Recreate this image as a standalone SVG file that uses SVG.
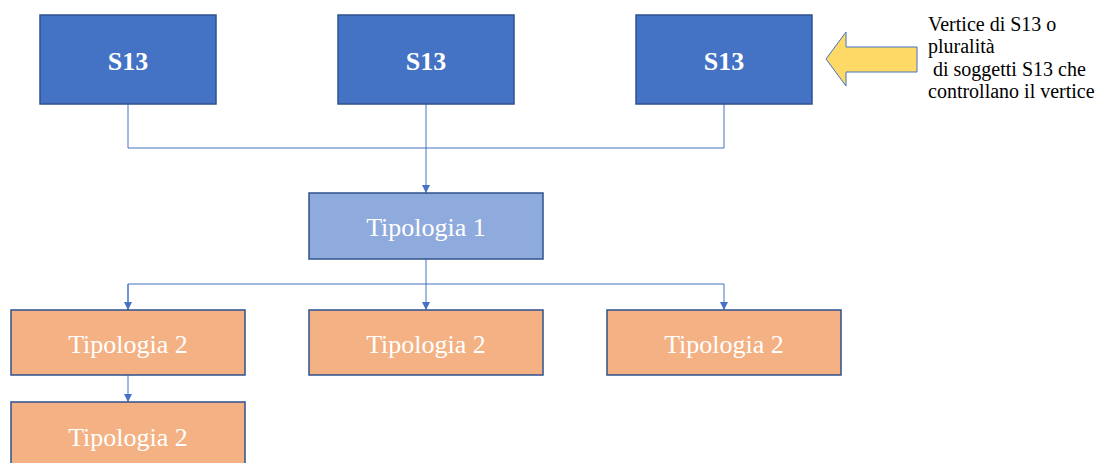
<svg xmlns="http://www.w3.org/2000/svg" width="1099" height="463" viewBox="0 0 1099 463">
<style>
.box{stroke:#2F528F;stroke-width:1.5}
.s13{fill:#4472C4}
.t1{fill:#8FAADC}
.t2{fill:#F4B183}
.lbl{font-family:"Liberation Serif","Times New Roman",serif;font-size:26px;fill:#fff;text-anchor:middle;dominant-baseline:central}
.b{font-weight:bold}
.con{fill:none;stroke:#4472C4;stroke-width:1}
.note{font-family:"Liberation Serif","Times New Roman",serif;font-size:20px;fill:#000}
</style>
<defs>
<marker id="ah" viewBox="0 0 10 10" refX="10" refY="5" markerWidth="8" markerHeight="8" markerUnits="userSpaceOnUse" orient="auto">
<path d="M0,0 L10,5 L0,10 z" fill="#4472C4"/>
</marker>
</defs>
<g id="connectors">
<path class="con" d="M128,104 V148 H724 V104 M426,104 V148"/>
<path class="con" d="M426,148 V193" marker-end="url(#ah)"/>
<path class="con" d="M426,259 V310" marker-end="url(#ah)"/>
<path class="con" d="M128,310 V284 H724 V310" marker-end="url(#ah)"/>
<path class="con" d="M128,284 V310" marker-end="url(#ah)"/>
<path class="con" d="M128,375 V402" marker-end="url(#ah)"/>
</g>
<g id="s13a"><rect class="box s13" x="40" y="15" width="176" height="89"/><text class="lbl b" x="128" y="61">S13</text></g>
<g id="s13b"><rect class="box s13" x="338" y="15" width="176" height="89"/><text class="lbl b" x="426" y="61">S13</text></g>
<g id="s13c"><rect class="box s13" x="636" y="15" width="176" height="89"/><text class="lbl b" x="724" y="61">S13</text></g>
<g id="tip1"><rect class="box t1" x="309" y="193" width="234" height="66"/><text class="lbl" x="426" y="227">Tipologia 1</text></g>
<g id="tip2a"><rect class="box t2" x="11" y="310" width="234" height="65"/><text class="lbl" x="128" y="344">Tipologia 2</text></g>
<g id="tip2b"><rect class="box t2" x="309" y="310" width="234" height="65"/><text class="lbl" x="426" y="344">Tipologia 2</text></g>
<g id="tip2c"><rect class="box t2" x="607" y="310" width="234" height="65"/><text class="lbl" x="724" y="344">Tipologia 2</text></g>
<g id="tip2d"><rect class="box t2" x="11" y="402" width="234" height="70"/><text class="lbl" x="128" y="437">Tipologia 2</text></g>
<g id="callout">
<path d="M826,59 L846,32 L846,47 L917,47 L917,72 L846,72 L846,86 z" fill="#FFD966" stroke="#4472C4" stroke-width="1"/>
<text class="note" x="928" y="31">Vertice di S13 o</text>
<text class="note" x="928" y="53">pluralità</text>
<text class="note" x="928" y="76" xml:space="preserve"> di soggetti S13 che</text>
<text class="note" x="928" y="98">controllano il vertice</text>
</g>
</svg>
